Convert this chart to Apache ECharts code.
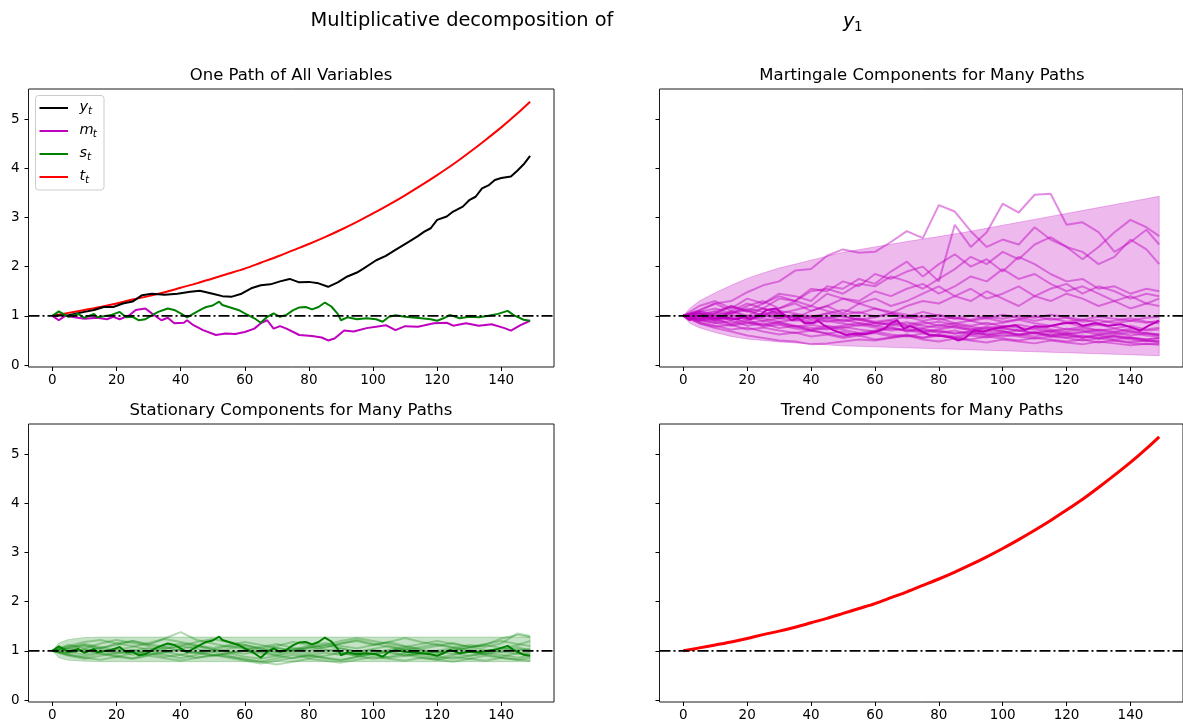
<!DOCTYPE html>
<html><head><meta charset="utf-8">
<script src="https://cdn.jsdelivr.net/npm/echarts@6/dist/echarts.min.js"></script>
<style>html,body{margin:0;padding:0;background:#fff;overflow:hidden}#c{width:1183px;height:725px}</style>
</head><body><div id="c"></div>
<script>
// ---------- axis ticks ----------
const xTicks = [0,20,40,60,80,100,120,140];
const yTicks = [0,1,2,3,4,5];

// ---------- one path (top-left) ----------
const yPathX = [0,5,10,13,16,19,22,25,28,31,35,39,43,46,50,53,56,59,62,65,68,71,74,77,80,83,86,89,92,95,97,101,104,107,111,114,116,118,120,123,125,128,130,132,134,136,138,140,143,145,147,149];
const yPathV = [1.00,1.01,1.08,1.12,1.18,1.18,1.25,1.29,1.42,1.45,1.43,1.45,1.49,1.51,1.45,1.40,1.39,1.45,1.56,1.62,1.64,1.70,1.75,1.68,1.69,1.66,1.59,1.68,1.80,1.88,1.96,2.13,2.22,2.34,2.50,2.62,2.71,2.78,2.95,3.02,3.12,3.22,3.35,3.42,3.59,3.65,3.76,3.80,3.83,3.95,4.08,4.25];
const mPathX = [0,2,4,10,14,17,19,21,24,26,29,31,34,36,38,41,42,44,47,51,54,57,60,63,65,67,69,71,73,77,81,84,86,88,91,94,98,102,104,107,110,114,119,123,125,129,133,137,141,143,146,149];
const mPathV = [1.00,0.91,1.00,0.94,0.96,0.93,0.98,0.93,1.01,1.12,1.15,1.05,0.91,0.96,0.85,0.86,0.91,0.81,0.71,0.61,0.64,0.63,0.67,0.74,0.85,0.91,0.74,0.79,0.74,0.61,0.59,0.56,0.50,0.54,0.70,0.68,0.75,0.79,0.81,0.71,0.79,0.78,0.85,0.86,0.80,0.85,0.80,0.83,0.75,0.70,0.81,0.90];
const sPathX = [0,2,5,8,10,13,14,18,21,23,25,27,29,31,33,36,38,40,42,45,47,48,50,52,53,55,58,60,63,65,67,69,71,73,75,77,79,81,83,85,87,89,90,92,95,98,101,103,105,107,110,115,118,120,122,124,127,130,133,136,139,142,144,147,149];
const sPathV = [1.00,1.09,0.98,1.04,0.96,1.04,0.97,1.01,1.08,0.97,0.98,0.91,0.93,1.01,1.08,1.15,1.12,1.05,0.97,1.08,1.15,1.18,1.21,1.29,1.22,1.18,1.12,1.05,0.95,0.86,0.98,1.05,0.98,1.02,1.11,1.17,1.18,1.13,1.18,1.27,1.19,1.04,0.91,0.97,0.93,0.95,0.93,0.88,0.98,1.01,0.98,0.95,0.93,0.90,0.95,1.02,0.95,0.98,0.97,1.00,1.04,1.10,1.01,0.92,0.90];
const tPathX = [0,5,10,15,20,25,30,35,40,45,50,55,60,65,70,75,80,85,90,95,100,105,110,115,120,125,130,135,140,145,149];
const tPathV = [1.00,1.06,1.12,1.18,1.25,1.33,1.40,1.48,1.57,1.66,1.76,1.86,1.96,2.08,2.20,2.33,2.46,2.60,2.75,2.91,3.08,3.26,3.45,3.65,3.86,4.08,4.32,4.57,4.83,5.11,5.35];

// ---------- many paths sampled every 5 periods ----------
const gridX = [0,5,10,15,20,25,30,35,40,45,50,55,60,65,70,75,80,85,90,95,100,105,110,115,120,125,130,135,140,145,149];

// martingale band
const mBandX = [0,2,5,10,15,20,25,30,40,50,60,70,80,90,100,110,120,130,140,149];
const mBandUpper = [1.00,1.15,1.30,1.47,1.62,1.76,1.87,1.97,2.13,2.29,2.40,2.51,2.61,2.72,2.84,2.96,3.08,3.20,3.32,3.43];
const mBandLower = [1.00,0.85,0.76,0.66,0.58,0.53,0.50,0.47,0.43,0.39,0.37,0.35,0.33,0.31,0.29,0.27,0.25,0.23,0.21,0.19];

const mPathH1 = [1.00,1.12,1.25,1.30,1.48,1.62,1.70,1.92,1.95,2.22,2.35,2.28,2.30,2.50,2.72,2.58,3.25,3.12,2.72,2.40,2.55,2.45,2.80,2.55,2.40,2.30,2.05,2.20,2.55,2.35,2.05];
const mPathH2 = [1.00,0.95,1.05,1.20,1.10,1.25,1.40,1.30,1.55,1.50,1.70,1.60,1.85,1.75,1.90,2.00,1.70,2.85,2.40,2.70,3.28,3.10,3.46,3.48,2.85,2.90,2.70,2.30,2.50,2.75,2.45];
const mPathH3 = [1.00,1.05,0.90,1.10,1.25,1.15,1.35,1.30,1.50,1.55,1.45,1.65,1.60,1.80,1.70,1.55,1.75,1.95,2.20,2.05,2.30,2.15,2.45,2.60,2.40,2.15,2.40,2.70,2.95,2.80,2.62];
const mPathH4 = [1.00,1.20,1.30,1.15,1.35,1.25,1.45,1.40,1.30,1.60,1.55,1.75,1.65,1.90,2.10,1.80,2.05,2.25,2.00,2.15,1.90,2.20,2.05,1.85,1.70,1.75,1.55,1.60,1.45,1.55,1.50];
const mPathH5 = [1.00,0.90,1.05,1.20,1.10,1.00,1.15,1.30,1.20,1.45,1.35,1.30,1.50,1.40,1.55,1.65,1.45,1.60,1.80,1.70,1.95,1.75,1.85,1.65,1.50,1.60,1.45,1.30,1.40,1.25,1.35];
const mPathH6 = [1.00,1.10,1.25,1.10,1.00,1.15,1.05,0.95,1.10,1.20,1.05,1.25,1.35,1.20,1.30,1.45,1.60,1.40,1.55,1.35,1.45,1.60,1.40,1.30,1.45,1.35,1.20,1.30,1.15,1.25,1.20];
const mPathH7 = [1.00,1.05,0.95,1.05,1.20,1.30,1.15,1.25,1.10,1.20,1.35,1.25,1.15,1.05,1.20,1.30,1.25,1.40,1.30,1.50,1.35,1.20,1.40,1.55,1.65,1.45,1.60,1.50,1.35,1.45,1.40];
const mPathL1 = [1.00,0.92,0.85,0.90,0.80,0.85,0.75,0.80,0.70,0.75,0.72,0.65,0.70,0.78,0.68,0.72,0.65,0.70,0.62,0.66,0.70,0.60,0.65,0.58,0.62,0.55,0.60,0.52,0.56,0.50,0.48];
const mPathL2 = [1.00,1.05,0.95,1.00,0.92,0.98,1.05,0.95,0.88,0.95,1.00,0.92,0.85,0.90,0.82,0.88,0.80,0.85,0.90,0.82,0.86,0.92,0.85,0.80,0.86,0.78,0.82,0.75,0.80,0.72,0.76];
const mPathL3 = [1.00,0.88,0.80,0.72,0.76,0.68,0.62,0.66,0.58,0.62,0.55,0.60,0.52,0.56,0.60,0.52,0.48,0.54,0.50,0.46,0.52,0.48,0.44,0.50,0.46,0.42,0.48,0.44,0.40,0.43,0.41];
const mPathL4 = [1.00,1.08,1.15,1.05,1.12,1.00,0.95,1.02,0.92,0.98,0.90,0.95,0.88,0.92,0.98,0.90,0.95,0.85,0.80,0.86,0.78,0.82,0.76,0.80,0.72,0.78,0.70,0.74,0.68,0.65,0.62];
const mPathL5 = [1.00,0.95,0.90,0.85,0.92,0.80,0.86,0.78,0.72,0.80,0.75,0.82,0.76,0.70,0.74,0.68,0.72,0.78,0.70,0.75,0.68,0.62,0.66,0.60,0.65,0.58,0.54,0.60,0.56,0.52,0.55];
const mPathL6 = [1.00,1.02,1.10,1.18,1.08,1.15,1.05,1.12,1.20,1.10,1.02,1.08,0.98,1.05,0.95,1.00,0.92,0.97,0.90,0.95,0.88,0.93,1.00,0.92,0.96,0.88,0.92,0.85,0.90,0.86,0.90];
const mPathL7 = [1.00,0.90,0.95,0.82,0.88,0.78,0.82,0.74,0.70,0.64,0.68,0.60,0.65,0.58,0.62,0.55,0.60,0.56,0.52,0.58,0.54,0.50,0.55,0.52,0.48,0.52,0.46,0.50,0.45,0.42,0.44];
const mPathL8 = [1.00,1.10,1.02,1.08,0.98,1.05,0.95,0.90,0.98,0.88,0.93,0.85,0.80,0.86,0.80,0.75,0.82,0.76,0.72,0.78,0.74,0.70,0.76,0.72,0.68,0.74,0.70,0.66,0.70,0.64,0.60];
const mPathL9 = [1.00,0.93,1.00,0.92,0.98,0.90,0.95,1.02,0.95,1.05,0.98,0.92,0.97,1.05,0.98,1.08,1.00,0.94,1.00,0.95,1.02,0.96,0.90,0.95,0.88,0.92,0.86,0.90,0.95,0.88,0.85];
const mPathL10 = [1.00,0.85,0.78,0.82,0.72,0.76,0.70,0.65,0.70,0.64,0.58,0.62,0.68,0.62,0.58,0.64,0.60,0.55,0.60,0.56,0.62,0.58,0.54,0.58,0.55,0.50,0.54,0.50,0.47,0.50,0.46];
const mPathL11 = [1.00,1.06,0.98,0.92,1.00,0.95,0.88,0.92,0.85,0.90,0.84,0.80,0.86,0.82,0.78,0.84,0.88,0.82,0.78,0.74,0.80,0.76,0.72,0.68,0.74,0.70,0.66,0.62,0.66,0.60,0.58];
const mPathL12 = [1.00,0.85,0.75,0.68,0.60,0.55,0.50,0.48,0.42,0.44,0.48,0.52,0.50,0.55,0.60,0.56,0.62,0.58,0.64,0.60,0.66,0.62,0.58,0.64,0.60,0.56,0.62,0.58,0.55,0.52,0.55];
const mPathL13 = [1.00,1.00,1.08,1.02,0.95,1.02,1.10,1.05,0.98,1.05,1.12,1.05,1.15,1.08,1.02,0.96,1.02,0.95,0.92,0.98,0.94,1.00,0.96,1.02,0.97,0.92,0.98,0.94,0.90,0.96,0.98];
const mPathL14 = [1.00,0.96,0.90,0.95,0.86,0.82,0.88,0.80,0.76,0.72,0.78,0.72,0.68,0.74,0.70,0.66,0.70,0.64,0.68,0.62,0.58,0.62,0.66,0.60,0.56,0.60,0.55,0.58,0.52,0.48,0.50];
const mPathL15 = [1.00,1.08,1.00,1.06,1.15,1.08,1.02,0.96,1.00,0.94,0.88,0.93,0.86,0.82,0.87,0.80,0.76,0.80,0.74,0.70,0.75,0.70,0.66,0.70,0.64,0.68,0.62,0.66,0.60,0.64,0.62];
const mPathL16 = [1.00,0.92,0.86,0.80,0.85,0.90,0.84,0.78,0.82,0.76,0.80,0.86,0.80,0.75,0.70,0.74,0.68,0.64,0.68,0.62,0.66,0.70,0.64,0.68,0.62,0.66,0.72,0.68,0.74,0.70,0.72];

// stationary band and paths
const sBandX = [0,2,5,10,15,20,40,60,80,100,120,140,149];
const sBandUpper = [1.00,1.16,1.23,1.27,1.28,1.28,1.28,1.28,1.28,1.28,1.28,1.28,1.28];
const sBandLower = [1.00,0.86,0.81,0.79,0.78,0.78,0.78,0.78,0.78,0.78,0.78,0.78,0.78];
const sPathG1 = [1.00,1.08,1.12,1.05,1.15,1.10,1.02,1.08,1.00,0.95,1.02,1.10,1.05,0.98,0.92,1.00,1.06,1.12,1.05,0.98,1.04,1.10,1.02,0.96,1.00,1.06,0.98,0.94,1.02,1.08,1.00];
const sPathG2 = [1.00,0.92,0.88,0.95,0.90,0.85,0.92,0.98,0.92,0.86,0.90,0.95,0.88,0.84,0.90,0.96,0.90,0.85,0.80,0.88,0.93,0.86,0.90,0.95,0.88,0.84,0.90,0.95,0.92,0.86,0.90];
const sPathG3 = [1.00,1.10,1.18,1.22,1.15,1.20,1.12,1.25,1.38,1.22,1.15,1.08,1.12,1.05,1.10,1.18,1.12,1.06,1.15,1.20,1.12,1.18,1.10,1.04,1.10,1.16,1.08,1.12,1.25,1.32,1.28];
const sPathG4 = [1.00,0.95,1.02,0.94,0.88,0.95,1.00,0.92,0.85,0.92,0.98,0.90,0.82,0.78,0.85,0.92,0.86,0.90,0.96,0.90,0.84,0.88,0.95,0.90,0.85,0.92,0.98,0.92,0.88,0.95,0.92];
const sPathG5 = [1.00,1.05,0.98,1.06,1.12,1.20,1.14,1.08,1.15,1.10,1.02,0.96,1.02,1.08,1.14,1.06,1.00,1.08,1.15,1.22,1.15,1.08,1.02,1.08,1.14,1.08,1.02,0.98,1.05,1.12,1.20];
const sPathG6 = [1.00,0.90,0.84,0.90,0.96,1.02,0.95,0.88,0.92,0.98,0.92,0.86,0.80,0.74,0.80,0.86,0.92,0.86,0.82,0.88,0.94,0.98,0.92,0.86,0.82,0.88,0.84,0.90,0.86,0.82,0.86];
const sPathG7 = [1.00,1.12,1.05,1.15,1.22,1.16,1.10,1.04,1.10,1.18,1.24,1.18,1.12,1.05,0.98,1.04,1.10,1.16,1.10,1.05,1.12,1.18,1.26,1.18,1.12,1.06,1.12,1.08,1.15,1.35,1.30];
const sPathG8 = [1.00,0.96,1.04,1.00,0.94,1.00,1.06,0.98,1.04,1.10,1.04,0.98,0.94,1.00,1.06,1.00,0.95,1.00,1.05,0.98,0.93,0.98,1.04,1.00,0.96,1.02,1.08,1.02,0.98,1.04,1.00];
const sPathG9 = [1.00,0.92,0.86,0.82,0.88,0.84,0.90,0.85,0.80,0.86,0.92,0.88,0.84,0.78,0.72,0.78,0.84,0.80,0.76,0.82,0.88,0.84,0.80,0.86,0.82,0.78,0.84,0.80,0.86,0.82,0.80];
const sPathG10 = [1.00,1.06,1.14,1.08,1.02,1.08,1.16,1.24,1.18,1.12,1.06,1.12,1.18,1.12,1.06,1.00,1.06,1.12,1.20,1.26,1.20,1.14,1.08,1.14,1.20,1.14,1.08,1.14,1.20,1.14,1.10];
const sPathG11 = [1.00,0.98,0.92,0.98,1.04,0.98,0.92,0.96,1.02,0.96,0.90,0.95,1.00,0.95,0.90,0.85,0.90,0.96,0.92,0.96,1.02,0.96,0.90,0.94,0.98,0.94,0.90,0.94,0.98,0.94,0.96];
const sPathG12 = [1.00,1.04,1.10,1.04,0.98,0.92,0.98,1.04,1.10,1.04,0.98,1.04,1.08,1.02,0.96,1.02,1.08,1.02,0.96,0.90,0.96,1.02,1.08,1.02,0.96,1.00,1.06,1.12,1.06,1.00,1.04];

// ---------- build ----------
const FONT = '"DejaVu Sans", sans-serif';
const XMIN = -7.45, XMAX = 156.45, YMIN = -0.04, YMAX = 5.61;
const grids = [
  {left: 28.5, top: 89, width: 525.5, height: 278},
  {left: 659.5, top: 89, width: 526, height: 278},
  {left: 28.5, top: 424, width: 525.5, height: 278},
  {left: 659.5, top: 424, width: 526, height: 278}
];
const zip = (xs, vs) => xs.map((x, i) => [x, vs[i]]);

const xAxes = grids.map((g, i) => ({
  type: 'value', gridIndex: i, min: XMIN, max: XMAX, position: 'bottom',
  axisLine: {show: false, onZero: false}, splitLine: {show: false},
  axisTick: {show: true, inside: false, length: 4, customValues: xTicks, lineStyle: {color: '#000', width: 1}},
  axisLabel: {show: true, customValues: xTicks, margin: 6, color: '#000', fontSize: 13.5, fontFamily: FONT}
}));
const yAxes = grids.map((g, i) => ({
  type: 'value', gridIndex: i, min: YMIN, max: YMAX, position: 'left',
  axisLine: {show: false, onZero: false}, splitLine: {show: false},
  axisTick: {show: true, inside: false, length: 4, customValues: yTicks, lineStyle: {color: '#000', width: 1}},
  axisLabel: {show: i % 2 === 0, customValues: yTicks, margin: 9, color: '#000', fontSize: 13.5, fontFamily: FONT}
}));

const series = [];
function line(gi, data, color, width, z, extra) {
  series.push(Object.assign({
    type: 'line', xAxisIndex: gi, yAxisIndex: gi, data: data, showSymbol: false, symbol: 'none',
    lineStyle: {color: color, width: width}, z: z, silent: true
  }, extra || {}));
}
function band(gi, xs, lo, hi, color) {
  series.push({
    type: 'custom', xAxisIndex: gi, yAxisIndex: gi, z: 1, silent: true,
    data: [[xs[0], lo[0]]],
    renderItem: function (params, api) {
      const pts = [];
      for (let i = 0; i < xs.length; i++) pts.push(api.coord([xs[i], hi[i]]));
      for (let i = xs.length - 1; i >= 0; i--) pts.push(api.coord([xs[i], lo[i]]));
      return {type: 'polygon', shape: {points: pts}, style: {fill: color, stroke: color, lineWidth: 1}};
    }
  });
}
const DASH = {type: [11, 3, 2, 3]};
function hline(gi) {
  line(gi, [[XMIN, 1], [XMAX, 1]], '#000', 1.8, 10, {lineStyle: Object.assign({color: '#000', width: 1.8}, DASH)});
}

// panel 0
line(0, zip(tPathX, tPathV), '#ff0000', 2, 5, {smooth: 0.3});
line(0, zip(yPathX, yPathV), '#000000', 2, 5);
line(0, zip(mPathX, mPathV), '#bf00bf', 2, 5);
line(0, zip(sPathX, sPathV), '#008000', 2, 5);
hline(0);

// panel 1
band(1, mBandX, mBandLower, mBandUpper, 'rgba(191,0,191,0.27)');
[mPathH1,mPathH2,mPathH3,mPathH4,mPathH5,mPathH6,mPathH7,mPathL1,mPathL2,mPathL3,mPathL4,mPathL5,mPathL6,mPathL7,mPathL8,mPathL9,mPathL10,mPathL11,mPathL12,mPathL13,mPathL14,mPathL15,mPathL16]
  .forEach(p => line(1, zip(gridX, p), 'rgba(191,0,191,0.45)', 2, 3));
line(1, zip(mPathX, mPathV), '#bf00bf', 2, 4);
hline(1);

// panel 2
band(2, sBandX, sBandLower, sBandUpper, 'rgba(0,128,0,0.22)');
[sPathG1,sPathG2,sPathG3,sPathG4,sPathG5,sPathG6,sPathG7,sPathG8,sPathG9,sPathG10,sPathG11,sPathG12]
  .forEach(p => line(2, zip(gridX, p), 'rgba(0,128,0,0.3)', 2, 3));
line(2, zip(sPathX, sPathV), '#008000', 2, 4);
hline(2);

// panel 3
line(3, zip(tPathX, tPathV), '#ff0000', 3, 5, {smooth: 0.3});
hline(3);

// ---------- titles + legend (graphic) ----------
function txt(x, y, s, size, opts) {
  return {type: 'text', x: x, y: y, silent: true, z: 100,
    style: Object.assign({text: s, fill: '#000', fontSize: size, fontFamily: FONT,
      textAlign: 'center', align: 'center', textVerticalAlign: 'middle', verticalAlign: 'middle'}, (opts || {}))};
}
const graphics = [
  txt(462, 21, 'Multiplicative decomposition of', 19.4),
  txt(843, 22, 'y', 19.4, {fontStyle: 'italic', textAlign: 'left', align: 'left'}),
  txt(854, 27, '1', 13.5, {textAlign: 'left', align: 'left'}),
  txt(291, 76, 'One Path of All Variables', 16.5),
  txt(922, 76, 'Martingale Components for Many Paths', 16.5),
  txt(291, 411, 'Stationary Components for Many Paths', 16.5),
  txt(922, 411, 'Trend Components for Many Paths', 16.5)
];
// legend
graphics.push({type: 'rect', z: 90, silent: true, shape: {x: 35.5, y: 95.5, width: 68.5, height: 94.5, r: 3},
  style: {fill: 'rgba(255,255,255,0.8)', stroke: '#cccccc', lineWidth: 1}});
const legItems = [
  {b: 'y', s: 't', c: '#000000', w: 8.4},
  {b: 'm', s: 't', c: '#bf00bf', w: 13.2},
  {b: 's', s: 't', c: '#008000', w: 7.5},
  {b: 't', s: 't', c: '#ff0000', w: 5.6}
];
legItems.forEach((it, k) => {
  const cy = 108 + k * 23;
  graphics.push({type: 'line', z: 95, silent: true, shape: {x1: 39.5, y1: cy, x2: 68, y2: cy}, style: {stroke: it.c, lineWidth: 2}});
  graphics.push(txt(79.5, cy - 1, it.b, 14.5, {fontStyle: 'italic', textAlign: 'left', align: 'left'}));
  graphics.push(txt(79.5 + it.w, cy + 3, it.s, 10.5, {fontStyle: 'italic', textAlign: 'left', align: 'left'}));
});

const chart = echarts.init(document.getElementById('c'), null, {renderer: 'canvas'});
chart.setOption({
  animation: false,
  backgroundColor: '#ffffff',
  textStyle: {fontFamily: FONT},
  grid: grids.map(g => Object.assign({show: true, borderColor: '#1a1a1a', borderWidth: 1, backgroundColor: 'transparent', containLabel: false}, g)),
  xAxis: xAxes,
  yAxis: yAxes,
  series: series,
  graphic: graphics
});
</script></body></html>
